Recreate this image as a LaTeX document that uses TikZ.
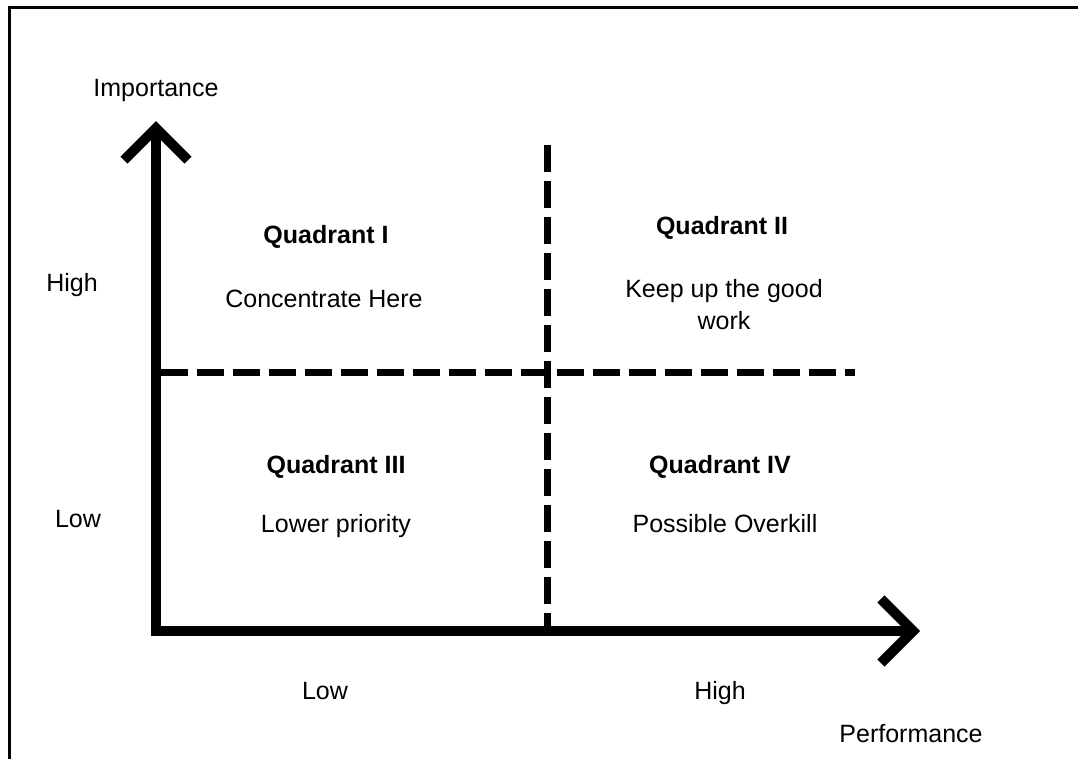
\documentclass[tikz,border=0pt]{standalone}
\usepackage{fontspec}
\setmainfont{Liberation Sans}
\usetikzlibrary{arrows.meta}
\begin{document}
\begin{tikzpicture}[x = 1pt, y = -1pt,
  barb/.style = {line width = 10pt, {Straight Barb[length=32pt, width=64pt]}-{Straight Barb[length=32pt, width=64pt]}},
  split/.style = {line width = 7pt, dash pattern = on 27pt off 9pt},
  lbl/.style = {inner sep = 0pt, anchor = base, align = center, font = \fontsize{25}{32}\selectfont},
  quad/.style = {lbl, font = \fontsize{25}{32}\selectfont\bfseries}]
\useasboundingbox (0,0) rectangle (1078,758);
\draw[line width = 3pt] (9,770) -- (9,7) -- (1090,7);
\coordinate (O) at (156,631);
\coordinate (ytip) at (156,121);
\coordinate (xtip) at (920,631);
\coordinate (vtop) at (547,145);
\coordinate (vbot) at (547,626);
\coordinate (hleft) at (161,372);
\coordinate (hright) at (855,372);
\draw[barb] (ytip) -- (O) -- (xtip);
\draw[split] (vtop) -- (vbot);
\draw[split] (hleft) -- (hright);
\node[lbl] (imp) at (156,96) {Importance};
\node[lbl] (hiY) at (72,291) {High};
\node[lbl] (loY) at (78,527) {Low};
\node[lbl] (loX) at (325,699) {Low};
\node[lbl] (hiX) at (720,699) {High};
\node[lbl] (perf) at (911,742) {Performance};
\node[quad] (q1) at (326,243) {Quadrant I};
\node[lbl] (t1) at (324,307) {Concentrate Here};
\node[quad] (q2) at (722,234) {Quadrant II};
\node[lbl] (t2) at (724,329) {Keep up the good\\work};
\node[quad] (q3) at (336,473) {Quadrant III};
\node[lbl] (t3) at (336,532) {Lower priority};
\node[quad] (q4) at (720,473) {Quadrant IV};
\node[lbl] (t4) at (725,532) {Possible Overkill};
\end{tikzpicture}
\end{document}
